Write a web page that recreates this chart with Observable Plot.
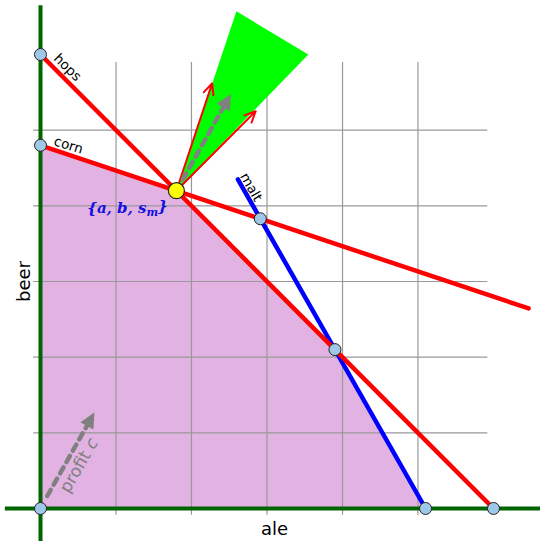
<!DOCTYPE html>
<html>
<head>
<meta charset="utf-8">
<script src="https://cdn.jsdelivr.net/npm/d3@7"></script>
<script src="https://cdn.jsdelivr.net/npm/@observablehq/plot@0.6"></script>
<style>
  html, body { margin: 0; padding: 0; background: #fff; }
</style>
</head>
<body>
<div id="chart"></div>
<script>
// ---- data ----
const feasibleAle = [0, 12, 26, 34];
const feasibleBeer = [32, 28, 14, 0];

const hopsAle = [0, 40], hopsBeer = [40, 0];
const cornAle = [0, 43.1], cornBeer = [32, 17.63];
const maltAle = [34, 17.43], maltBeer = [0, 29];

const gridTicks = [6.67, 13.33, 20, 26.67, 33.33];

const coneAle = [12, 17.3, 23.65];
const coneBeer = [28, 43.8, 40];

const optimumAle = [12], optimumBeer = [28];
const vertexAle = [0, 0, 0, 19.41, 26, 34, 40];
const vertexBeer = [0, 32, 40, 25.53, 14, 0, 0];

const normalTipAle = [15.15, 19.0];
const normalTipBeer = [37.45, 35.0];

const profit = [13, 23];
const profitScaleTop = 0.37;
const profitTailLow = [0.6, 1.1];
const profitScaleLow = 0.32;

const labels = ["hops", "corn", "malt"];
const labelAle = [2.38, 2.47, 18.6];
const labelBeer = [38.85, 32.0, 28.3];
const labelRotate = [45, 17, 60];

// ---- derived ----
const feasible = feasibleAle.map((a, i) => ({a, b: feasibleBeer[i]}));
const toPts = (A, B) => A.map((a, i) => ({a, b: B[i]}));
const cone = toPts(coneAle, coneBeer);

function arrowParts(tail, dir, t) {
  const tip = [tail[0] + dir[0] * t, tail[1] + dir[1] * t];
  const dx = tip[0] - tail[0], dy = tip[1] - tail[1];
  const len = Math.hypot(dx, dy);
  const ux = dx / len, uy = dy / len;
  const L = 1.35, W = 0.66;
  const base = [tip[0] - L * ux, tip[1] - L * uy];
  const nx = -uy, ny = ux;
  const head = [
    {a: tip[0], b: tip[1]},
    {a: base[0] + W * nx, b: base[1] + W * ny},
    {a: base[0] - W * nx, b: base[1] - W * ny}
  ];
  const shaft = [{a: tail[0], b: tail[1]}, {a: base[0] + 0.2 * ux, b: base[1] + 0.2 * uy}];
  return {head, shaft};
}
const topArrow = arrowParts([optimumAle[0], optimumBeer[0]], profit, profitScaleTop);
const lowArrow = arrowParts(profitTailLow, profit, profitScaleLow);

const kx = 11.325, ky = 11.35;

const plot = Plot.plot({
  width: 540,
  height: 541,
  margin: 0,
  style: {background: "#fff", fontFamily: "DejaVu Sans"},
  x: {domain: [-40 / kx, 500 / kx], axis: null},
  y: {domain: [-33 / ky, 508 / ky], axis: null},
  marks: [
    Plot.areaY(feasible, {x: "a", y: "b", fill: "#e2b3e2"}),
    Plot.ruleX(gridTicks, {x: d => d, y1: -0.6, y2: 39.3, stroke: "#999", strokeWidth: 1.2}),
    Plot.ruleY(gridTicks, {y: d => d, x1: -0.6, x2: 39.5, stroke: "#999", strokeWidth: 1.2}),
    Plot.line(cone, {x: "a", y: "b", fill: "#00ff00", stroke: "none", curve: "linear-closed"}),
    Plot.ruleX([0], {x: d => d, y1: -3, y2: 44.3, stroke: "#006400", strokeWidth: 4}),
    Plot.ruleY([0], {y: d => d, x1: -3.1, x2: 45, stroke: "#006400", strokeWidth: 4}),
    Plot.line(toPts(maltAle, maltBeer), {x: "a", y: "b", stroke: "#0000ff", strokeWidth: 4.5}),
    Plot.line(toPts(hopsAle, hopsBeer), {x: "a", y: "b", stroke: "#ff0000", strokeWidth: 4.5}),
    Plot.line(toPts(cornAle, cornBeer), {x: "a", y: "b", stroke: "#ff0000", strokeWidth: 4.5}),
    Plot.arrow(normalTipAle.map((a, i) => ({a, b: normalTipBeer[i]})), {
      x1: optimumAle[0], y1: optimumBeer[0], x2: "a", y2: "b",
      stroke: "#ff0000", strokeWidth: 2, headLength: 9, headAngle: 50
    }),
    Plot.line(topArrow.shaft, {x: "a", y: "b", stroke: "#808080", strokeWidth: 4.5, strokeDasharray: "7,6"}),
    Plot.line(topArrow.head, {x: "a", y: "b", fill: "#808080", stroke: "none", curve: "linear-closed"}),
    Plot.line(lowArrow.shaft, {x: "a", y: "b", stroke: "#808080", strokeWidth: 4.5, strokeDasharray: "7,6"}),
    Plot.line(lowArrow.head, {x: "a", y: "b", fill: "#808080", stroke: "none", curve: "linear-closed"}),
    Plot.dot(toPts(vertexAle, vertexBeer), {x: "a", y: "b", r: 6, fill: "#9fc8e8", stroke: "#222", strokeWidth: 1}),
    Plot.dot(toPts(optimumAle, optimumBeer), {x: "a", y: "b", r: 8, fill: "#ffff00", stroke: "#222", strokeWidth: 1.2}),
    Plot.text(labels.map((t, i) => ({t, a: labelAle[i], b: labelBeer[i], r: labelRotate[i]})), {
      x: "a", y: "b", text: "t", rotate: "r", fontSize: 13.5, fill: "#000", fontFamily: "DejaVu Sans"
    }),
    Plot.text(["ale"], {x: 20.66, y: -1.8, text: d => d, fontSize: 18, fill: "#000", fontFamily: "DejaVu Sans"}),
    Plot.text(["beer"], {x: -1.41, y: 20.0, text: d => d, rotate: -90, fontSize: 18, fill: "#000", fontFamily: "DejaVu Sans"}),
    Plot.text(["{a, b, sm}"], {x: 7.68, y: 26.5, text: d => d, fontSize: 15, fontWeight: "bold", fontStyle: "italic", fill: "#1010e0", fontFamily: "DejaVu Serif"}),
    Plot.text(["profit c"], {x: 3.4, y: 3.8, text: d => d, rotate: -60, fontSize: 17, fill: "#808080", fontFamily: "DejaVu Sans"})
  ]
});

document.getElementById("chart").appendChild(plot);

// typographic refinements: subscript m and italic c
d3.select(plot).selectAll("text").each(function() {
  const el = d3.select(this);
  const txt = this.textContent;
  if (txt === "{a, b, sm}") {
    el.text(null);
    el.append("tspan").text("{a, b, s");
    el.append("tspan").attr("dy", "0.3em").attr("font-size", "11").text("m");
    el.append("tspan").attr("dy", "-0.3em").text("}");
  } else if (txt === "profit c") {
    el.text(null);
    el.append("tspan").text("profit ");
    el.append("tspan").attr("font-style", "italic").text("c");
  }
});
</script>
</body>
</html>
